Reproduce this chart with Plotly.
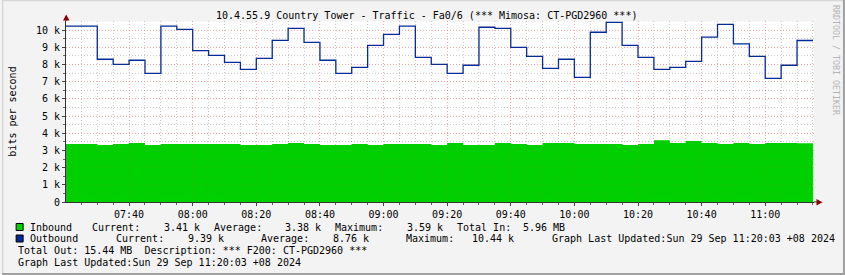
import pandas as pd
import numpy as np
import plotly.graph_objects as go

# ---------------- data ----------------
start_time = "2024-09-29 07:20"
end_time = "2024-09-29 11:15"
step = "5min"

outbound_k = [10.23, 10.23, 8.30, 8.00, 8.24, 7.48, 10.23, 10.04, 8.80, 8.53,
              8.12, 7.71, 8.35, 9.40, 10.10, 9.28, 8.24, 7.48, 7.83, 9.11,
              9.75, 10.23, 8.41, 8.00, 7.48, 7.95, 10.16, 10.10, 8.99, 8.47,
              7.77, 8.30, 7.25, 9.87, 10.44, 9.11, 8.41, 7.71, 7.83, 8.18,
              9.58, 10.33, 9.19, 8.47, 7.19, 7.95, 9.39]

inbound_k = [3.37, 3.37, 3.31, 3.37, 3.43, 3.31, 3.37, 3.37, 3.37, 3.37,
             3.37, 3.31, 3.31, 3.37, 3.43, 3.37, 3.31, 3.31, 3.37, 3.31,
             3.37, 3.37, 3.37, 3.31, 3.43, 3.31, 3.31, 3.43, 3.37, 3.31,
             3.43, 3.43, 3.37, 3.37, 3.37, 3.31, 3.37, 3.59, 3.43, 3.55,
             3.43, 3.37, 3.43, 3.37, 3.43, 3.43, 3.41]

y_tick_vals = list(range(0, 11))
y_tick_text = ["0"] + [f"{v} k" for v in range(1, 11)]

title_text = "10.4.55.9 Country Tower - Traffic - Fa0/6 (*** Mimosa: CT-PGD2960 ***)"
y_title = "bits per second"
watermark = "RRDTOOL / TOBI OETIKER"

legend_line1 = [("Inbound", 26), ("Current:", 88), ("3.41 k", 160), ("Average:", 210),
                ("3.38 k", 281.5), ("Maximum:", 331.5), ("3.59 k", 404), ("Total In:", 454),
                ("5.96 MB", 520)]
legend_line2 = [("Outbound", 26), ("Current:", 112), ("9.39 k", 184), ("Average:", 258),
                ("8.76 k", 330), ("Maximum:", 403), ("10.44 k", 469),
                ("Graph Last Updated:Sun 29 Sep 11:20:03 +08 2024", 549)]
legend_line3 = "Total Out: 15.44 MB  Description: *** F200: CT-PGD2960 ***"
legend_line4 = "Graph Last Updated:Sun 29 Sep 11:20:03 +08 2024"

IN_COLOR = "#00CF00"
OUT_COLOR = "#002A97"

# ---------------- figure ----------------
W, H = 845, 275
PX0, PX1, PY0, PY1 = 64, 814, 21, 202  # plot area in pixels


def px(x):
    return (x - PX0) / (PX1 - PX0)


def py(y):
    return (PY1 - y) / (PY1 - PY0)


times = pd.date_range(start_time, periods=len(outbound_k), freq=step)
x_steps = list(times) + [pd.Timestamp(end_time)]
out_steps = outbound_k + [outbound_k[-1]]
in_steps = inbound_k + [inbound_k[-1]]

fig = go.Figure()
fig.add_trace(go.Scatter(x=x_steps, y=in_steps, mode="lines", line_shape="hv",
                         line=dict(width=0, color=IN_COLOR), fill="tozeroy",
                         fillcolor=IN_COLOR, hoverinfo="skip"))
fig.add_trace(go.Scatter(x=x_steps, y=out_steps, mode="lines", line_shape="hv",
                         line=dict(width=1.3, color=OUT_COLOR), hoverinfo="skip"))

ymax = (PY1 - PY0) / 17.2
x_start = pd.Timestamp(start_time) + pd.Timedelta(seconds=10)
x_end = pd.Timestamp(end_time) + pd.Timedelta(seconds=20)

mono = "DejaVu Sans Mono"
major_grid = "rgba(240,90,90,0.45)"
minor_grid = "rgba(150,150,150,0.38)"
major_grid_top = "rgba(240,90,90,0.14)"
minor_grid_top = "rgba(120,120,120,0.14)"
DASH = "1px,2px"

fig.update_layout(
    width=W, height=H,
    margin=dict(l=PX0, r=W - PX1, t=PY0, b=H - PY1, pad=0),
    paper_bgcolor="#F3F3F3", plot_bgcolor="#FFFFFF",
    showlegend=False,
    font=dict(family=mono, size=10, color="#000000"),
    xaxis=dict(type="date", range=[x_start, x_end],
               tick0="2024-09-29 07:40", dtick=20 * 60 * 1000, tickformat="%H:%M",
               showgrid=True, gridcolor=major_grid, griddash=DASH, gridwidth=1,
               ticks="outside", ticklen=3, tickcolor="#444", showline=True,
               linecolor="#333", linewidth=1, zeroline=False,
               tickfont=dict(family=mono, size=10),
               minor=dict(dtick=5 * 60 * 1000, tick0="2024-09-29 07:20",
                          showgrid=True, gridcolor=minor_grid, griddash=DASH,
                          ticks="outside", ticklen=2, tickcolor="#666")),
    yaxis=dict(range=[0, ymax], tickmode="array", tickvals=y_tick_vals,
               ticktext=y_tick_text, showgrid=True, gridcolor=major_grid,
               griddash=DASH, ticks="outside", ticklen=3,
               tickcolor="#444", showline=True, linecolor="#333", linewidth=1,
               zeroline=False, tickfont=dict(family=mono, size=10),
               title=dict(text=y_title, font=dict(family=mono, size=10), standoff=17),
               minor=dict(tickmode="array", tickvals=[v + 0.5 for v in range(0, 10)],
                          showgrid=True, gridcolor=minor_grid, griddash=DASH,
                          ticks="outside", ticklen=2, tickcolor="#666")),
)

anns = []
anns.append(dict(text=title_text, x=px(425), y=py(15), xref="paper", yref="paper",
                 xanchor="center", yanchor="middle", showarrow=False,
                 font=dict(family=mono, size=10)))
anns.append(dict(text=watermark, x=px(836), y=py(60), xref="paper", yref="paper",
                 xanchor="center", yanchor="middle", showarrow=False, textangle=90,
                 font=dict(family=mono, size=8.3, color="#B4B4B4")))
for txt, xx in legend_line1:
    anns.append(dict(text=txt, x=px(xx), y=py(227), xref="paper", yref="paper",
                     xanchor="left", yanchor="middle", showarrow=False,
                     font=dict(family=mono, size=10)))
for txt, xx in legend_line2:
    anns.append(dict(text=txt, x=px(xx), y=py(238.5), xref="paper", yref="paper",
                     xanchor="left", yanchor="middle", showarrow=False,
                     font=dict(family=mono, size=10)))
anns.append(dict(text=legend_line3, x=px(14), y=py(250.5), xref="paper", yref="paper",
                 xanchor="left", yanchor="middle", showarrow=False,
                 font=dict(family=mono, size=10)))
anns.append(dict(text=legend_line4, x=px(14), y=py(262.5), xref="paper", yref="paper",
                 xanchor="left", yanchor="middle", showarrow=False,
                 font=dict(family=mono, size=10)))
fig.update_layout(annotations=anns)

shapes = []
# faint grid drawn above the data (visible through the filled area, as in rrdtool)
grid_times = pd.date_range("2024-09-29 07:25", end_time, freq="5min")
for t in grid_times:
    is_major = (t.minute % 20 == 0)
    shapes.append(dict(type="line", xref="x", yref="paper", x0=t, x1=t, y0=0, y1=1,
                       layer="above",
                       line=dict(color=major_grid_top if is_major else minor_grid_top,
                                 width=1, dash=DASH)))
for v in np.arange(0.5, ymax, 0.5):
    is_major = abs(v - round(v)) < 1e-9
    shapes.append(dict(type="line", xref="paper", yref="y", x0=0, x1=1, y0=v, y1=v,
                       layer="above",
                       line=dict(color=major_grid_top if is_major else minor_grid_top,
                                 width=1, dash=DASH)))
# legend colour boxes
for yc, col in [(227, IN_COLOR), (238.5, OUT_COLOR)]:
    shapes.append(dict(type="rect", xref="paper", yref="paper",
                       x0=px(14), x1=px(21), y0=py(yc - 3.5), y1=py(yc + 3.5),
                       fillcolor=col, line=dict(color="#000000", width=1)))
# axis extensions and arrows
shapes.append(dict(type="line", xref="paper", yref="paper", x0=px(64), x1=px(64),
                   y0=py(PY0), y1=py(17), line=dict(color="#333", width=1)))
shapes.append(dict(type="path", xref="paper", yref="paper",
                   path=f"M {px(61)} {py(20.5)} L {px(67.5)} {py(20.5)} L {px(64.2)} {py(14.5)} Z",
                   fillcolor="#8B0000", line=dict(width=0)))
shapes.append(dict(type="line", xref="paper", yref="paper", x0=px(PX1), x1=px(818),
                   y0=py(202), y1=py(202), line=dict(color="#333", width=1)))
shapes.append(dict(type="path", xref="paper", yref="paper",
                   path=f"M {px(816.5)} {py(199)} L {px(816.5)} {py(205.5)} L {px(822.5)} {py(202.2)} Z",
                   fillcolor="#8B0000", line=dict(width=0)))
# frame
shapes.append(dict(type="line", xref="paper", yref="paper", x0=px(0), x1=px(845),
                   y0=py(0.5), y1=py(0.5), line=dict(color="#D6D6D6", width=1.5)))
shapes.append(dict(type="line", xref="paper", yref="paper", x0=px(0.5), x1=px(0.5),
                   y0=py(0), y1=py(275), line=dict(color="#D6D6D6", width=1.5)))
shapes.append(dict(type="line", xref="paper", yref="paper", x0=px(0), x1=px(845),
                   y0=py(274), y1=py(274), line=dict(color="#A0A0A0", width=2)))
shapes.append(dict(type="line", xref="paper", yref="paper", x0=px(844), x1=px(844),
                   y0=py(0), y1=py(275), line=dict(color="#A0A0A0", width=2)))
fig.update_layout(shapes=shapes)

fig.write_html("out.html")
